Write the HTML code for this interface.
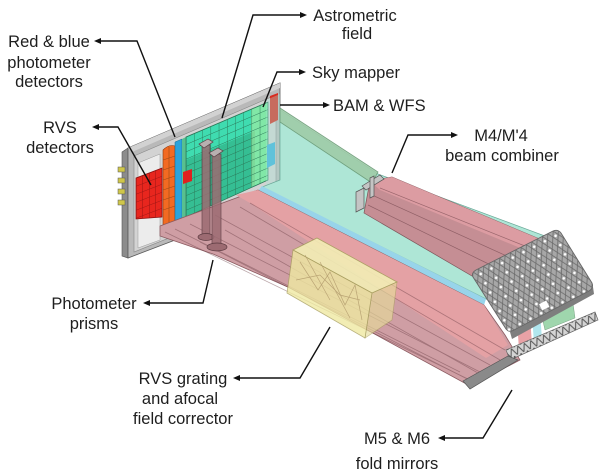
<!DOCTYPE html>
<html><head><meta charset="utf-8">
<style>
html,body{margin:0;padding:0;background:#fff;}
svg{display:block;}
text{font-family:"Liberation Sans",Arial,sans-serif;font-size:16.5px;fill:#1e1e1e;}
</style></head><body>
<svg width="600" height="473" viewBox="0 0 600 473" xmlns="http://www.w3.org/2000/svg">
<defs>
<pattern id="grid" width="8.2" height="7.3" patternUnits="userSpaceOnUse" patternTransform="translate(186,137) skewY(-23.1)">
 <path d="M0,0H8.2M0,0V7.3" stroke="#2a7656" stroke-width="0.9" fill="none"/>
</pattern>
<pattern id="rgrid" width="6.5" height="8" patternUnits="userSpaceOnUse" patternTransform="translate(136,178) skewY(-21)">
 <path d="M0,0H6.5M0,0V8" stroke="#8a1010" stroke-width="0.8" fill="none"/>
</pattern>
<pattern id="mesh" width="12" height="10.4" patternUnits="userSpaceOnUse" patternTransform="translate(473,272) rotate(-27)">
 <path d="M0,0 L6,10.4 L12,0 M0,10.4 L6,0 L12,10.4" stroke="#6a6a6a" stroke-width="0.8" fill="none"/>
 <circle cx="6" cy="5.2" r="1.3" fill="#fff"/>
</pattern>
<pattern id="zig" width="7" height="8" patternUnits="userSpaceOnUse" patternTransform="translate(508,350) rotate(-23)">
 <path d="M0,8 L3.5,0 L7,8" stroke="#555" stroke-width="1" fill="none"/>
</pattern>
</defs>

<!-- ===== Focal plane plate ===== -->
<polygon points="122,152 128,148 128,258 122,256" fill="#8c8c8c" stroke="#555" stroke-width=".6"/>
<polygon points="128,148 280,83 280,200 128,258" fill="#b9b9b9" stroke="#5a5a5a" stroke-width=".8"/>
<polygon points="128,148 280,83 280,88 132,152" fill="#d2d2d2"/>
<polygon points="134,156 276,95 276,195 134,252" fill="#d3d3d3" stroke="#888" stroke-width=".6"/>
<polygon points="138,163 160,154 160,240 138,248" fill="#ececec" stroke="#999" stroke-width=".5"/>

<!-- connectors -->
<g fill="#cfc64a" stroke="#555" stroke-width=".5">
<rect x="118" y="167" width="7" height="5"/>
<rect x="118" y="178" width="7" height="5"/>
<rect x="118" y="189" width="7" height="5"/>
<rect x="118" y="200" width="7" height="5"/>
</g>

<!-- RVS detectors -->
<polygon points="136,178 162,168 162,217 136,219" fill="#e8261e" stroke="#8a1010" stroke-width=".7"/>
<polygon points="136,178 162,168 162,217 136,219" fill="url(#rgrid)"/>

<!-- photometer columns -->
<path d="M163,150 Q169,144 175,146 L175,222 L163,226 Z" fill="#f26a22" stroke="#8a3a10" stroke-width=".6"/>
<g stroke="#9a4a18" stroke-width=".6">
<line x1="163" y1="160" x2="175" y2="156"/><line x1="163" y1="170" x2="175" y2="166"/>
<line x1="163" y1="180" x2="175" y2="176"/><line x1="163" y1="190" x2="175" y2="186"/>
<line x1="163" y1="200" x2="175" y2="196"/><line x1="163" y1="210" x2="175" y2="206"/>
<line x1="169" y1="147" x2="169" y2="224"/>
</g>
<polygon points="175,142 182,139 182,219 175,222" fill="#2ba3dc" stroke="#1a6a90" stroke-width=".5"/>
<polygon points="182,139 186,137 186,217 182,219" fill="#58c090"/>

<!-- astrometric field -->
<polygon points="186,137 268,102 268,180 186,217" fill="#3fdcb0"/>
<polygon points="186,160 255,131 255,186 186,217" fill="#1e7a50" opacity=".3"/>
<polygon points="251,109 268,102 268,180 251,187" fill="#b8f0a0" opacity=".55"/>
<polygon points="186,137 268,102 268,180 186,217" fill="url(#grid)" stroke="#2a7656" stroke-width=".7"/>
<polygon points="183,172 192,169 192,181 183,184" fill="#e02020"/>
<!-- BAM & blue -->
<polygon points="270,96 278,93 278,120 270,124" fill="#d82a1e"/>
<polygon points="267,145 275,142 275,164 267,168" fill="#3ab0dc"/>
<polygon points="266,100 280,94 280,182 266,188" fill="#a8e6d6" opacity=".35"/>

<!-- ===== Beams ===== -->
<!-- cyan astrometric beam -->
<polygon points="280,110 378,174 545,236 488,300 262,187 280,180" fill="#aee6d6" stroke="#6aa898" stroke-width=".7"/>
<polygon points="262,186 486,299 484,305 258,191" fill="#98d4ea"/>

<!-- pink main beam -->
<polygon points="160,226 258,190 484,305 505,335 520,360 470,386 290,288 213,254 160,236" fill="#cf9ea4" stroke="#8b5a60" stroke-width=".8"/>
<polygon points="236,195 258,190 484,305 508,345 486,358 250,203" fill="#e4a1a4"/>
<g stroke="#6b3f46" stroke-width=".8" opacity=".45" fill="none">
<line x1="165" y1="232" x2="470" y2="380"/>
<line x1="190" y1="224" x2="480" y2="372"/>
<line x1="215" y1="215" x2="490" y2="365"/>
<line x1="240" y1="207" x2="500" y2="360"/>
<line x1="200" y1="242" x2="475" y2="383"/>
<line x1="250" y1="203" x2="505" y2="350"/>
<line x1="175" y1="229" x2="460" y2="372"/>
<line x1="225" y1="230" x2="485" y2="377"/>
</g>

<!-- green rod to focal plane -->
<polygon points="280,108 378,172 372,183 280,122" fill="#9fcca8" opacity=".9" stroke="#6a9a76" stroke-width=".8"/>

<!-- M4 beam -->
<polygon points="370,181 392,177 542,240 527,257 484,283 364,213" fill="#c7878f" opacity=".92" stroke="#7a4a50" stroke-width=".7"/>
<polygon points="370,181 392,177 542,240 530,252 380,190" fill="#dc9ca2"/>
<g stroke="#5a3038" stroke-width=".7" opacity=".5">
<line x1="372" y1="195" x2="520" y2="262"/>
<line x1="368" y1="205" x2="505" y2="272"/>
<line x1="380" y1="188" x2="535" y2="250"/>
</g>

<!-- M4 bracket -->
<g fill="#c4c4c4" stroke="#555" stroke-width=".7">
<polygon points="356,192 364,188 364,208 356,212"/>
<polygon points="362,186 380,175 384,179 366,190"/>
<polygon points="370,178 374,176 374,196 370,198"/>
</g>

<!-- yellow RVS grating box -->
<polygon points="293,250 317,238 397,282 372,293" fill="#f3eeb5" opacity=".9" stroke="#a9a060" stroke-width=".8"/>
<polygon points="372,293 397,282 392,320 365,338" fill="#e6dc9a" opacity=".65" stroke="#a9a060" stroke-width=".7"/>
<polygon points="293,250 372,293 365,338 287,293" fill="#efe9a2" opacity=".8" stroke="#a9a060" stroke-width=".8"/>
<g stroke="#b0986a" stroke-width=".7" fill="none" opacity=".8">
<path d="M300,262 L318,290 L330,272 L345,305 L355,285 L362,320"/>
<path d="M296,280 L320,275 L340,295 L360,300"/>
<path d="M305,255 L330,300 M320,262 L350,318"/>
</g>

<!-- under-mirror colored strips -->
<polygon points="517,320 530,315 532,345 519,350" fill="#e07a80" opacity=".7"/>
<polygon points="532,314 540,311 542,340 534,344" fill="#9ee0ea" opacity=".8"/>
<polygon points="540,308 572,296 575,318 545,330" fill="#8fcf9f" opacity=".85" stroke="#5f8f6c" stroke-width=".5"/>

<!-- big mesh mirror -->
<polygon points="510,332 593,287 594,294 512,339" fill="#7e7e7e"/>
<path d="M476,270 L553,231 Q558,229 561,233 L592,283 Q594,288 589,291 L514,330 Q509,333 506,329 L473,277 Q471,273 476,270 Z" fill="#a7a7a7" stroke="#666" stroke-width=".9"/>
<path d="M476,270 L553,231 Q558,229 561,233 L592,283 Q594,288 589,291 L514,330 Q509,333 506,329 L473,277 Q471,273 476,270 Z" fill="url(#mesh)"/>
<rect x="540" y="302" width="8" height="7" fill="#fff" transform="rotate(-27 544 305)"/>

<!-- M5/M6 fold mirrors -->
<polygon points="506,350 595,312 598,320 510,360" fill="#d4d4d4" stroke="#666" stroke-width=".7"/>
<polygon points="506,350 595,312 598,320 510,360" fill="url(#zig)"/>
<polygon points="463,381 508,356 518,360 470,389" fill="#8a8a8a" stroke="#555" stroke-width=".7"/>

<!-- photometer prisms -->
<g stroke="#5a3a40" stroke-width=".7">
<rect x="202" y="145" width="8" height="92" fill="#9c6b72" opacity=".85"/>
<ellipse cx="206" cy="237" rx="8" ry="3.5" fill="#9c6b72"/>
<rect x="212" y="154" width="9" height="93" fill="#9c6b72" opacity=".85"/>
<ellipse cx="217" cy="247" rx="10" ry="4" fill="#9c6b72"/>
<polygon points="199,144 208,139 213,142 204,148" fill="#b8b0b0"/>
<polygon points="209,153 218,148 223,151 214,157" fill="#b8b0b0"/>
</g>

<!-- ===== Leader lines ===== -->
<g stroke="#111" stroke-width="1.4" fill="none">
<path d="M222,118 L253,15 L301,15"/>
<path d="M175,137 L137,41 L100,41"/>
<path d="M151,185 L118,127 L98,127"/>
<path d="M263,107 L277,72 L300,72"/>
<path d="M280,105 L324,105"/>
<path d="M392,173 L408,135 L452,135"/>
<path d="M213,260 L203,303 L149,303"/>
<path d="M330,327 L300,378 L239,378"/>
<path d="M512,390 L483,438 L444,438"/>
</g>
<g fill="#111">
<polygon points="307,15 300,12 300,18"/>
<polygon points="306,72 299,69 299,75"/>
<polygon points="330,105 323,102 323,108"/>
<polygon points="458,135 451,132 451,138"/>
<polygon points="94,41 101,38 101,44"/>
<polygon points="92,127 99,124 99,130"/>
<polygon points="143,303 150,300 150,306"/>
<polygon points="233,378 240,375 240,381"/>
<polygon points="438,438 445,435 445,441"/>
</g>

<!-- ===== Labels ===== -->
<text x="355" y="21" text-anchor="middle">Astrometric</text>
<text x="357" y="39" text-anchor="middle">field</text>
<text x="49" y="47" text-anchor="middle">Red &amp; blue</text>
<text x="49" y="68" text-anchor="middle">photometer</text>
<text x="49" y="87" text-anchor="middle">detectors</text>
<text x="312" y="78">Sky mapper</text>
<text x="333" y="111">BAM &amp; WFS</text>
<text x="60" y="133" text-anchor="middle">RVS</text>
<text x="60" y="153" text-anchor="middle">detectors</text>
<text x="501" y="141" text-anchor="middle">M4/M'4</text>
<text x="502" y="161" text-anchor="middle">beam combiner</text>
<text x="94" y="309" text-anchor="middle">Photometer</text>
<text x="94" y="329" text-anchor="middle">prisms</text>
<text x="183" y="384" text-anchor="middle">RVS grating</text>
<text x="180" y="404" text-anchor="middle">and afocal</text>
<text x="183" y="424" text-anchor="middle">field corrector</text>
<text x="397" y="444" text-anchor="middle">M5 &amp; M6</text>
<text x="397" y="469" text-anchor="middle">fold mirrors</text>
</svg>
</body></html>
